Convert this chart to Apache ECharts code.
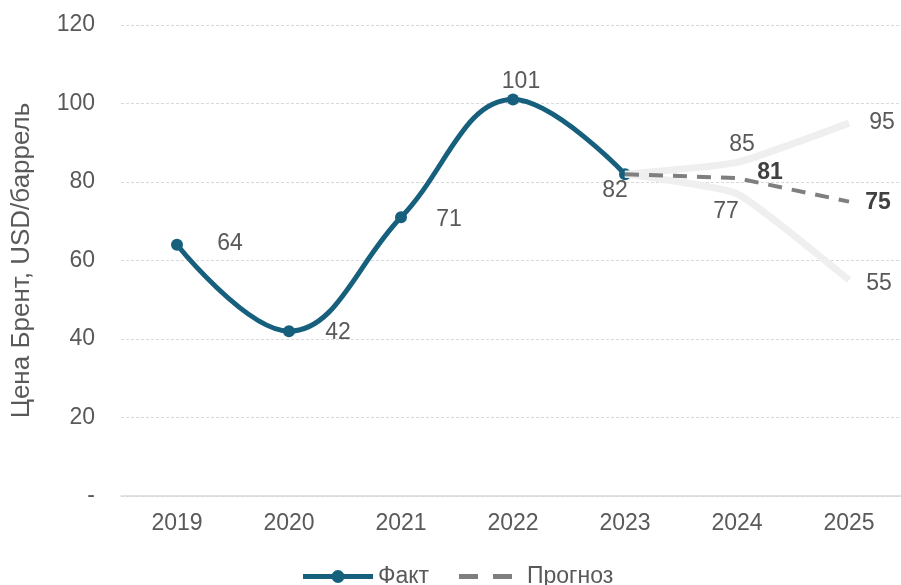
<!DOCTYPE html>
<html><head><meta charset="utf-8">
<script src="https://cdn.jsdelivr.net/npm/echarts@6/dist/echarts.min.js"></script>
<style>html,body{margin:0;padding:0;background:#fff;overflow:hidden}#c{width:905px;height:585px}</style>
</head><body><div id="c"></div>
<script>
var years = ['2019','2020','2021','2022','2023','2024','2025'];
var fact = [64, 42, 71, 101, 82, null, null];
var forecast = [null, null, null, null, 82, 81, 75];
var upper = [null, null, null, null, 82, 85, 95];
var lower = [null, null, null, null, 82, 77, 55];

var txt = '#595959';
var font = 'Liberation Sans, Arial, sans-serif';

function withLabels(values, offsets, extra) {
  return values.map(function (v, i) {
    if (v === null) return null;
    var o = offsets[i];
    if (!o) return v;
    var lbl = {show: true, position: 'inside', offset: o};
    if (extra) for (var k in extra) lbl[k] = extra[k];
    return {value: v, label: lbl};
  });
}

var factOff = [[53,-1],[49,2],[48,2],[8,-18],[-10,17],null,null];
var upOff = [null,null,null,null,null,[5,-18],[33,0]];
var lowOff = [null,null,null,null,null,[-11,18],[30,4]];
var fcOff = [null,null,null,null,null,[33,-5],[29,1]];

var chart = echarts.init(document.getElementById('c'));
chart.setOption({
  animation: false,
  textStyle: {fontFamily: font},
  grid: {left: 121, right: 0, top: 25, bottom: 89},
  legend: [{
    data: [{name: 'Факт', icon: 'path://M0,4.5 H70 V9.5 H0 Z M41.5,7 A6.5,6.5 0 1 1 28.5,7 A6.5,6.5 0 1 1 41.5,7 Z'}],
    left: 298, top: 560, itemWidth: 70, itemHeight: 14,
    textStyle: {color: txt, fontSize: 23, fontFamily: font}
  }, {
    data: [{name: 'Прогноз', icon: 'path://M0,0 H19 V5 H0 Z M34,0 H53 V5 H34 Z'}],
    left: 454, top: 560, itemWidth: 53, itemHeight: 5,
    textStyle: {color: txt, fontSize: 23, fontFamily: font, padding: [0, 0, 0, 10]}
  }],
  xAxis: {
    type: 'category', data: years, boundaryGap: true,
    axisLine: {lineStyle: {color: '#d9d9d9', width: 1.5}},
    axisTick: {show: false},
    axisLabel: {color: txt, fontSize: 23, margin: 16}
  },
  yAxis: {
    type: 'value', min: 0, max: 120, interval: 20,
    name: 'Цена Брент, USD/баррель', nameLocation: 'middle', nameGap: 86,
    nameTextStyle: {color: txt, fontSize: 26},
    axisLine: {show: false}, axisTick: {show: false},
    axisLabel: {color: txt, fontSize: 23, margin: 26, formatter: function (v) { return v === 0 ? '-' : String(v); }},
    splitLine: {lineStyle: {color: '#d9d9d9', type: [3, 2]}}
  },
  series: [
    {
      name: 'Факт', type: 'line', data: withLabels(fact, factOff), smooth: 0.4,
      symbol: 'circle', symbolSize: 12,
      lineStyle: {color: '#17607d', width: 5},
      itemStyle: {color: '#17607d'},
      label: {color: txt, fontSize: 23},
      z: 2
    },
    {
      name: 'Верх', type: 'line', data: withLabels(upper, upOff), smooth: 0.15, symbol: 'circle', symbolSize: 0,
      showSymbol: true,
      lineStyle: {color: '#efefef', width: 7},
      itemStyle: {color: '#efefef'},
      label: {color: txt, fontSize: 23},
      z: 3
    },
    {
      name: 'Низ', type: 'line', data: withLabels(lower, lowOff), smooth: 0.15, symbol: 'circle', symbolSize: 0,
      showSymbol: true,
      lineStyle: {color: '#efefef', width: 7},
      itemStyle: {color: '#efefef'},
      label: {color: txt, fontSize: 23},
      z: 3
    },
    {
      name: 'Прогноз', type: 'line', data: withLabels(forecast, fcOff), symbol: 'circle', symbolSize: 0,
      showSymbol: true,
      lineStyle: {color: '#7f7f7f', width: 4, type: [14, 10]},
      itemStyle: {color: '#7f7f7f'},
      label: {color: '#404040', fontSize: 23, fontWeight: 'bold'},
      z: 4
    }
  ]
});
</script></body></html>
